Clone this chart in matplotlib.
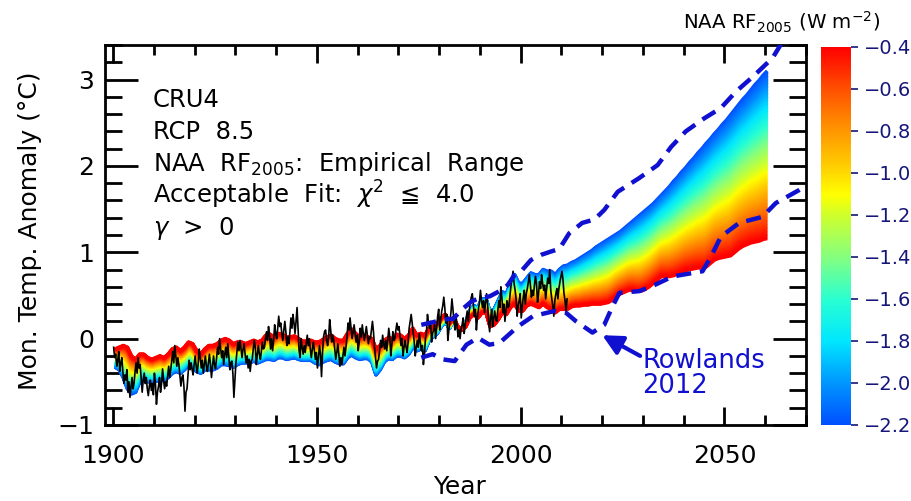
import numpy as np
import matplotlib.pyplot as plt
from matplotlib.colors import LinearSegmentedColormap, Normalize
from matplotlib.cm import ScalarMappable
from matplotlib.ticker import MultipleLocator

# CRU4 anomaly, quarterly samples, one row per year from 1900
cru4_start = 1900.125
cru4 = [
    -0.10, -0.22, -0.18, -0.32,  -0.25, -0.15, -0.38, -0.28,
    -0.22, -0.38, -0.52, -0.42,  -0.48, -0.36, -0.62, -0.50,
    -0.68, -0.56, -0.45, -0.58,  -0.52, -0.38, -0.28, -0.40,
    -0.22, -0.34, -0.30, -0.46,  -0.62, -0.48, -0.40, -0.52,
    -0.45, -0.58, -0.66, -0.55,  -0.48, -0.60, -0.52, -0.65,
    -0.40, -0.52, -0.76, -0.62,  -0.55, -0.45, -0.62, -0.52,
    -0.35, -0.48, -0.58, -0.50,  -0.55, -0.44, -0.32, -0.45,
    -0.36, -0.25, -0.15, -0.28,  -0.08, -0.20, -0.32, -0.22,
    -0.30, -0.42, -0.55, -0.45,  -0.42, -0.56, -0.84, -0.62,
    -0.58, -0.42, -0.25, -0.36,  -0.28, -0.36, -0.42, -0.30,
    -0.20, -0.32, -0.40, -0.28,  -0.12, -0.22, -0.34, -0.25,
    -0.40, -0.30, -0.20, -0.32,  -0.38, -0.28, -0.18, -0.30,
    -0.45, -0.32, -0.20, -0.30,  -0.35, -0.22, -0.10, -0.18,
    0.00, -0.12, -0.22, -0.14,  -0.30, -0.18, -0.10, -0.22,
    -0.06, -0.20, -0.36, -0.28,  -0.26, -0.40, -0.68, -0.48,
    -0.28, -0.15, -0.04, -0.14,  -0.02, -0.12, -0.22, -0.12,
    -0.06, -0.18, -0.28, -0.20,  -0.34, -0.24, -0.38, -0.26,
    -0.24, -0.12, -0.02, -0.10,  -0.30, -0.18, -0.08, -0.18,
    -0.24, -0.14, -0.04, -0.12,  -0.10, 0.00, 0.08, -0.02,
    0.14, 0.04, -0.12, 0.00,  -0.14, -0.02, 0.16, 0.06,
    0.00, 0.12, 0.26, 0.14,  0.18, 0.06, -0.02, 0.10,
    0.20, 0.08, -0.08, 0.02,  -0.06, 0.08, 0.24, 0.12,
    0.28, 0.18, 0.06, 0.20,  0.36, 0.10, -0.14, -0.22,
    0.00, -0.10, -0.18, -0.08,  -0.16, -0.06, 0.04, -0.08,
    0.00, -0.12, -0.22, -0.12,  -0.04, -0.14, -0.24, -0.16,
    -0.34, -0.22, -0.08, -0.18,  -0.44, -0.16, 0.02, 0.08,
    0.10, -0.02, -0.08, 0.02,  0.22, 0.10, -0.04, 0.04,
    -0.02, -0.12, -0.24, -0.16,  -0.06, -0.18, -0.32, -0.22,
    -0.30, -0.20, -0.10, -0.20,  -0.10, 0.02, 0.18, 0.10,
    0.24, 0.12, 0.00, 0.08,  0.16, 0.06, -0.04, 0.04,
    -0.14, -0.04, 0.12, 0.02,  0.16, 0.06, -0.02, 0.06,
    0.14, 0.04, -0.06, 0.02,  0.00, 0.10, 0.20, 0.08,
    -0.10, -0.22, -0.34, -0.26,  -0.24, -0.14, -0.02, -0.10,
    0.04, -0.06, -0.12, -0.02,  -0.14, -0.02, 0.12, 0.02,
    -0.20, -0.08, 0.08, -0.02,  0.00, 0.10, 0.18, 0.10,
    0.14, 0.04, -0.08, 0.00,  -0.20, -0.10, -0.02, -0.10,
    -0.16, -0.04, 0.12, 0.20,  0.28, 0.18, 0.06, -0.04,
    -0.20, -0.10, -0.02, -0.10,  0.06, -0.04, -0.14, -0.08,
    -0.30, -0.18, 0.00, 0.08,  0.28, 0.18, 0.12, 0.20,
    -0.04, 0.06, 0.10, 0.16,  0.00, 0.12, 0.26, 0.34,
    0.10, 0.22, 0.32, 0.38,  0.48, 0.36, 0.18, 0.28,
    -0.02, 0.10, 0.20, 0.30,  0.46, 0.34, 0.20, 0.10,
    0.26, 0.16, 0.02, 0.10,  0.00, 0.12, 0.16, 0.24,
    0.06, 0.16, 0.24, 0.32,  0.20, 0.32, 0.42, 0.48,
    0.52, 0.40, 0.26, 0.34,  0.10, 0.24, 0.34, 0.42,
    0.56, 0.44, 0.36, 0.44,  0.30, 0.42, 0.52, 0.40,
    0.20, 0.08, 0.24, 0.34,  0.14, 0.24, 0.32, 0.22,
    0.20, 0.32, 0.44, 0.36,  0.60, 0.48, 0.30, 0.40,
    0.20, 0.32, 0.44, 0.36,  0.38, 0.50, 0.62, 0.70,
    0.78, 0.64, 0.56, 0.46,  0.26, 0.38, 0.44, 0.52,
    0.24, 0.36, 0.48, 0.56,  0.40, 0.52, 0.58, 0.66,
    0.74, 0.62, 0.48, 0.56,  0.50, 0.62, 0.72, 0.64,
    0.42, 0.52, 0.66, 0.58,  0.74, 0.64, 0.56, 0.62,
    0.46, 0.58, 0.70, 0.64,  0.80, 0.56, 0.46, 0.38,
    0.26, 0.44, 0.52, 0.58,  0.46, 0.58, 0.66, 0.72,
    0.78, 0.68, 0.52, 0.44,  0.32, 0.46,
]

# annual ensemble members at the two ends of the NAA RF2005 range
model_start = 1900.5
weak_past = [  # RF2005 = -0.4, 1900 - 2011
    -0.12, -0.10, -0.08, -0.10, -0.20, -0.24, -0.18, -0.18, -0.22, -0.24,
    -0.22, -0.20, -0.22, -0.18, -0.12, -0.10, -0.14, -0.10, -0.04, -0.06,
    -0.14, -0.18, -0.12, -0.08, -0.08, -0.06, -0.02, 0.00, -0.02, -0.06,
    -0.04, -0.04, -0.06, -0.04, -0.02, -0.04, -0.02, 0.04, 0.05, 0.02,
    0.06, 0.05, 0.02, 0.02, 0.03, 0.00, -0.03, -0.03, -0.02, -0.04,
    -0.04, -0.01, 0.02, 0.04, 0.00, -0.02, -0.02, 0.06, 0.11, 0.06,
    0.02, 0.04, 0.02, 0.00, -0.12, -0.08, -0.02, 0.01, 0.00, 0.05,
    0.04, 0.00, 0.04, 0.12, 0.04, 0.06, 0.04, 0.12, 0.14, 0.18,
    0.24, 0.28, 0.18, 0.24, 0.14, 0.10, 0.14, 0.24, 0.28, 0.24,
    0.30, 0.30, 0.14, 0.16, 0.22, 0.30, 0.28, 0.36, 0.40, 0.32,
    0.32, 0.38, 0.40, 0.38, 0.36, 0.40, 0.36, 0.34, 0.30, 0.34,
    0.34, 0.34,
]
strong_past = [  # RF2005 = -2.2, 1900 - 2011
    -0.33, -0.36, -0.45, -0.58, -0.64, -0.62, -0.50, -0.46, -0.50, -0.50,
    -0.49, -0.49, -0.48, -0.45, -0.40, -0.38, -0.40, -0.36, -0.31, -0.33,
    -0.38, -0.40, -0.36, -0.36, -0.36, -0.34, -0.30, -0.30, -0.31, -0.33,
    -0.30, -0.28, -0.28, -0.28, -0.26, -0.28, -0.26, -0.24, -0.24, -0.25,
    -0.22, -0.22, -0.24, -0.23, -0.22, -0.24, -0.25, -0.25, -0.25, -0.28,
    -0.30, -0.27, -0.25, -0.24, -0.27, -0.29, -0.29, -0.22, -0.19, -0.22,
    -0.24, -0.23, -0.23, -0.27, -0.42, -0.36, -0.27, -0.23, -0.24, -0.20,
    -0.20, -0.22, -0.18, -0.10, -0.14, -0.12, -0.14, -0.02, 0.02, 0.06,
    0.14, 0.20, 0.12, 0.22, 0.12, 0.12, 0.18, 0.32, 0.38, 0.36,
    0.46, 0.46, 0.30, 0.34, 0.44, 0.54, 0.52, 0.64, 0.74, 0.64,
    0.64, 0.70, 0.76, 0.74, 0.74, 0.80, 0.78, 0.78, 0.74, 0.80,
    0.84, 0.85,
]
weak_future = [  # 2012 - 2060
    0.37, 0.38, 0.38, 0.39, 0.39, 0.40, 0.40, 0.40, 0.41, 0.42,
    0.45, 0.49, 0.52, 0.54, 0.56, 0.56, 0.55, 0.55, 0.57, 0.60,
    0.64, 0.68, 0.72, 0.72, 0.72, 0.73, 0.75, 0.77, 0.79, 0.80,
    0.81, 0.82, 0.82, 0.83, 0.87, 0.91, 0.93, 0.94, 0.95, 0.96,
    1.00, 1.04, 1.07, 1.09, 1.11, 1.12, 1.13, 1.15, 1.16,
]
strong_future = [  # 2012 - 2060
    0.88, 0.90, 0.93, 0.96, 0.99, 1.02, 1.06, 1.09, 1.12, 1.15,
    1.18, 1.21, 1.24, 1.28, 1.32, 1.36, 1.40, 1.44, 1.48, 1.52,
    1.56, 1.61, 1.66, 1.71, 1.76, 1.82, 1.87, 1.93, 1.98, 2.04,
    2.09, 2.15, 2.20, 2.26, 2.31, 2.37, 2.42, 2.48, 2.53, 2.59,
    2.65, 2.71, 2.77, 2.82, 2.88, 2.94, 2.99, 3.05, 3.10,
]

# Rowlands et al. (2012) range
rowlands_up_yr = [1975.6, 1978.5, 1980.9, 1983.4, 1985.9, 1987.9, 1989.9, 1992.4,
                  1994.8, 1996.8, 1998.5, 2000.1, 2002.5, 2005.0, 2007.5, 2009.5,
                  2011.9, 2015.1, 2018.1, 2020.5, 2023.8, 2029.1, 2033.6, 2036.9,
                  2040.5, 2045.0, 2049.1, 2052.8, 2056.9, 2061.8, 2064.0]
rowlands_up = [0.16, 0.19, 0.22, 0.23, 0.35, 0.43, 0.47, 0.49,
               0.55, 0.62, 0.74, 0.78, 0.91, 0.97, 1.01, 1.04,
               1.22, 1.34, 1.38, 1.49, 1.70, 1.86, 2.01, 2.22,
               2.40, 2.55, 2.67, 2.86, 3.03, 3.25, 3.42]
rowlands_lo_yr = [1975.6, 1978.4, 1980.9, 1983.8, 1986.7, 1989.5, 1992.3, 1994.8,
                  1999.3, 2003.0, 2008.3, 2011.1, 2013.6, 2017.6, 2020.5, 2022.2,
                  2024.2, 2029.1, 2032.8, 2037.3, 2044.6, 2046.7, 2049.1, 2053.6,
                  2059.3, 2062.6, 2068.3, 2070.0]
rowlands_lo = [-0.22, -0.18, -0.24, -0.26, -0.07, 0.01, -0.07, -0.05,
               0.14, 0.26, 0.32, 0.30, 0.20, 0.07, 0.16, 0.34,
               0.53, 0.55, 0.62, 0.72, 0.78, 0.95, 1.18, 1.34,
               1.41, 1.57, 1.72, 1.77]

rf_min, rf_max = -2.2, -0.4
rf_ticks = [-0.4, -0.6, -0.8, -1.0, -1.2, -1.4, -1.6, -1.8, -2.0, -2.2]

row_blue = "#1010d0"
navy = "#16167a"

cmap = LinearSegmentedColormap.from_list("naa", [
    (0.00, "#0050ff"), (0.11, "#0096ff"), (0.22, "#00e6ff"),
    (0.33, "#28ffd2"), (0.44, "#82ff82"), (0.56, "#d2ff28"),
    (0.61, "#ffff00"), (0.67, "#ffd700"), (0.78, "#ff9600"),
    (0.89, "#ff5000"), (1.00, "#ff0000")])
norm = Normalize(rf_min, rf_max)

fig = plt.figure(figsize=(9.12, 5.01), dpi=100)
ax = fig.add_axes([105 / 912, 76 / 501, 701 / 912, 380 / 501])
cax = fig.add_axes([821 / 912, 76 / 501, 30 / 912, 378 / 501])

# ensemble fan: blend the two end members across the RF range
weak = np.array(weak_past + weak_future)
strong = np.array(strong_past + strong_future)
t_model = model_start + np.arange(len(weak))
for rf in np.linspace(rf_min, rf_max, 120):
    f = (rf - rf_min) / (rf_max - rf_min)
    ax.plot(t_model, strong + f * (weak - strong), color=cmap(norm(rf)),
            lw=2.6, solid_capstyle="butt", zorder=2)

t_obs = cru4_start + 0.25 * np.arange(len(cru4))
ax.plot(t_obs, cru4, color="black", lw=1.2, zorder=3)

for yr, val in [(rowlands_up_yr, rowlands_up), (rowlands_lo_yr, rowlands_lo)]:
    ax.plot(yr, val, color=row_blue, lw=3.2, dashes=(3.4, 2.0), zorder=4)

ax.annotate("", xy=(2020.0, 0.04), xytext=(2029.3, -0.20),
            arrowprops=dict(arrowstyle="-|>", lw=3, color=row_blue,
                            mutation_scale=30, shrinkA=0, shrinkB=0), zorder=5)
ax.text(2029.9, -0.11, "Rowlands\n2012", color=row_blue, fontsize=18.5,
        va="top", ha="left", linespacing=0.95, zorder=5)

ax.set_xlim(1898, 2070)
ax.set_ylim(-1, 3.4)
ax.xaxis.set_major_locator(MultipleLocator(50))
ax.xaxis.set_minor_locator(MultipleLocator(10))
ax.yaxis.set_major_locator(MultipleLocator(1))
ax.yaxis.set_minor_locator(MultipleLocator(0.2))
ax.tick_params(which="both", direction="in", top=True, right=True,
               width=2, labelsize=18)
ax.tick_params(axis="y", which="major", length=24, pad=8)
ax.tick_params(axis="y", which="minor", length=12)
ax.tick_params(axis="x", which="major", length=13, pad=14)
ax.tick_params(axis="x", which="minor", length=7)
for s in ax.spines.values():
    s.set_linewidth(2)

ax.set_ylabel("Mon. Temp. Anomaly (°C)", fontsize=18)
ax.yaxis.set_label_coords(-0.09, 0.51)
ax.set_xlabel("Year", fontsize=18)
ax.xaxis.label.set_va("bottom")
ax.xaxis.set_label_coords(0.506, -(499 - 425) / 380)

lines = ["CRU4", "RCP  8.5", "NAA  RF$_{2005}$:  Empirical  Range",
         "Acceptable  Fit:  $\\chi^{2}$  ≦  4.0", "$\\gamma$  >  0"]
for i, s in enumerate(lines):
    ax.text(0.0685, 0.837 - 0.0845 * i, s, transform=ax.transAxes,
            fontsize=17.5, va="baseline", ha="left")

sm = ScalarMappable(norm=norm, cmap=cmap)
cb = fig.colorbar(sm, cax=cax, ticks=rf_ticks)
cb.outline.set_visible(False)
cb.set_ticklabels([f"{v:.1f}".replace("-", "\u2212") for v in rf_ticks])
cax.tick_params(length=5, width=1.2, color=navy, labelcolor=navy,
                labelsize=14, pad=4)
fig.text(880 / 912, 1 - 22 / 501, "NAA RF$_{2005}$ (W m$^{-2}$)",
         ha="right", va="center", fontsize=14.2)

fig.savefig("out.png", dpi=100)
